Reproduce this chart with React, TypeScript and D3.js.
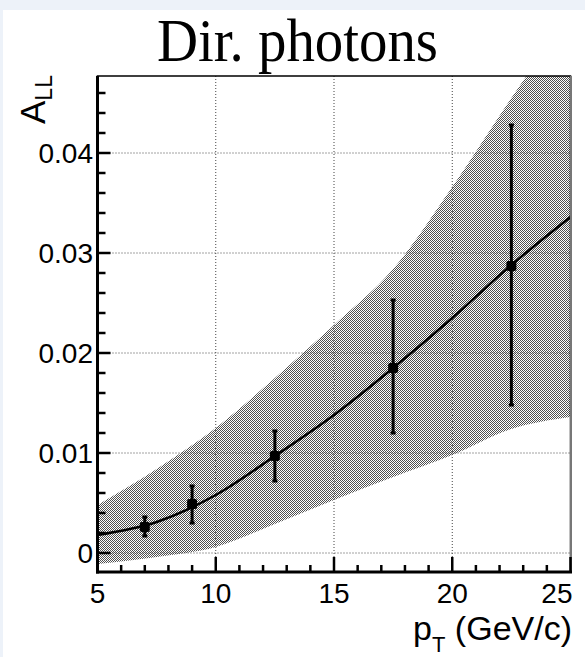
import React from "react";
import * as d3 from "d3";

// ---- data ----
const bandPt = [5, 7.5, 10, 12.5, 15, 17.5, 20, 22.5, 25];
const bandUpper = [0.0048, 0.0084, 0.0125, 0.0175, 0.0228, 0.0284, 0.0366, 0.0455, 0.054];
const bandLower = [-0.0011, -0.0004, 0.0006, 0.0029, 0.0053, 0.0076, 0.0098, 0.0124, 0.0136];
const curvePt = [5, 7.5, 10, 12.5, 15, 17.5, 20, 22.5, 25];
const curveVal = [0.0018, 0.0031, 0.0058, 0.0097, 0.0138, 0.0185, 0.0235, 0.0288, 0.0336];
const pointPt = [7, 9, 12.5, 17.5, 22.5];
const pointVal = [0.0026, 0.0049, 0.0097, 0.0185, 0.0287];
const pointLow = [0.0017, 0.003, 0.0072, 0.012, 0.0148];
const pointHigh = [0.0036, 0.0067, 0.0122, 0.0253, 0.0428];
const xMajorTicks = [5, 10, 15, 20, 25];
const yMajorTicks = [0, 0.01, 0.02, 0.03, 0.04];
const yTickLabels = ["0", "0.01", "0.02", "0.03", "0.04"];
const title = "Dir. photons";

export default function App() {
  const W = 585, H = 657;
  const L = 97.5, R = 570.5, T = 76, B = 572;
  const x = d3.scaleLinear().domain([5, 25]).range([L, R]);
  const y = d3.scaleLinear().domain([-0.0019, 0.0477]).range([B, T]);

  const xMinor = d3.range(5, 25.001, 1);
  const yMinor = d3.range(-0.002, 0.0477, 0.002).filter((v) => v > -0.0019);

  const band = d3
    .area<number>()
    .x((_, i) => x(bandPt[i]))
    .y0((_, i) => y(bandLower[i]))
    .y1((_, i) => y(bandUpper[i]))
    .curve(d3.curveMonotoneX)(bandPt);
  const curve = d3
    .line<number>()
    .x((_, i) => x(curvePt[i]))
    .y((_, i) => y(curveVal[i]))
    .curve(d3.curveMonotoneX)(curvePt);

  const sans = "'Liberation Sans', Arial, Helvetica, sans-serif";
  const serif = "'Liberation Serif', 'Times New Roman', serif";

  return (
    <svg
      width={W}
      height={H}
      style={{ position: "absolute", left: 0, top: 0 }}
      xmlns="http://www.w3.org/2000/svg"
    >
      <defs>
        <pattern id="stip" width={2} height={2} patternUnits="userSpaceOnUse">
          <rect x={0} y={0} width={1} height={1} fill="#505050" />
          <rect x={1} y={1} width={1} height={1} fill="#505050" />
        </pattern>
        <clipPath id="plotClip">
          <rect x={L} y={T} width={R - L} height={B - T} />
        </clipPath>
      </defs>
      <rect x={0} y={0} width={W} height={H} fill="#edf2f9" />
      <rect x={3} y={10} width={W - 3} height={H - 10} fill="#ffffff" />

      {/* title */}
      <text
        x={157}
        y={61}
        fontFamily={serif}
        fontSize={62}
        textLength={281}
        lengthAdjust="spacingAndGlyphs"
        fill="#000"
      >
        {title}
      </text>

      {/* band */}
      <g clipPath="url(#plotClip)">
        <path d={band || ""} fill="url(#stip)" />
      </g>

      {/* grid */}
      <g stroke="#444" strokeWidth={1} strokeDasharray="1 2">
        {xMajorTicks
          .filter((v) => v > 5 && v < 25)
          .map((v) => (
            <line key={"gx" + v} x1={x(v)} x2={x(v)} y1={T} y2={B} />
          ))}
        {yMajorTicks.map((v) => (
          <line key={"gy" + v} x1={L} x2={R} y1={y(v)} y2={y(v)} />
        ))}
      </g>

      {/* curve */}
      <g clipPath="url(#plotClip)">
        <path d={curve || ""} fill="none" stroke="#000" strokeWidth={2.5} />
      </g>

      {/* points */}
      <g>
        {pointPt.map((p, i) => (
          <g key={"pt" + i}>
            <line
              x1={x(p)}
              x2={x(p)}
              y1={y(pointLow[i])}
              y2={y(pointHigh[i])}
              stroke="#000"
              strokeWidth={3}
            />
            <rect x={x(p) - 2.5} y={y(pointLow[i]) - 1.5} width={5} height={3} fill="#000" />
            <rect x={x(p) - 2.5} y={y(pointHigh[i]) - 1.5} width={5} height={3} fill="#000" />
            <rect x={x(p) - 5} y={y(pointVal[i]) - 5} width={10} height={10} rx={2} fill="#000" />
          </g>
        ))}
      </g>

      {/* frame */}
      <rect x={L} y={T} width={R - L} height={B - T} fill="none" stroke="#000" strokeWidth={1.5} />
      <line x1={R + 0.5} x2={R + 0.5} y1={T} y2={B} stroke="#777" strokeWidth={2} />
      <line x1={L} x2={L} y1={T} y2={B + 1.5} stroke="#000" strokeWidth={3} />
      <line x1={L - 1.5} x2={R + 1.5} y1={B} y2={B} stroke="#000" strokeWidth={3} />

      {/* x ticks */}
      <g stroke="#000" strokeWidth={2.5}>
        {xMinor.map((v) => {
          const major = Math.round(v) % 5 === 0;
          return (
            <line key={"xt" + v} x1={x(v)} x2={x(v)} y1={B} y2={B - (major ? 15 : 7)} />
          );
        })}
      </g>
      {/* y ticks */}
      <g stroke="#000" strokeWidth={2.5}>
        {yMinor.map((v) => {
          const major = yMajorTicks.some((m) => Math.abs(m - v) < 1e-9);
          return <line key={"yt" + v} x1={L} x2={L + (major ? 13 : 8)} y1={y(v)} y2={y(v)} />;
        })}
      </g>

      {/* x tick labels */}
      <g fontFamily={sans} fontSize={28} fill="#000">
        {xMajorTicks.map((v, i) => (
          <text
            key={"xl" + v}
            x={i === xMajorTicks.length - 1 ? x(v) + 2 : x(v)}
            y={603}
            textAnchor={i === xMajorTicks.length - 1 ? "end" : "middle"}
          >
            {String(v)}
          </text>
        ))}
      </g>
      {/* y tick labels */}
      <g fontFamily={sans} fontSize={28} fill="#000">
        {yMajorTicks.map((v, i) => (
          <text key={"yl" + v} x={93} y={y(v) + 10} textAnchor="end">
            {yTickLabels[i]}
          </text>
        ))}
      </g>

      {/* axis titles */}
      <text x={572} y={640} fontFamily={sans} fontSize={34} textAnchor="end" fill="#000">
        <tspan>p</tspan>
        <tspan fontSize={22} dy={12}>T</tspan>
        <tspan dy={-12}> (GeV/c)</tspan>
      </text>
      <text
        transform="translate(45,124) rotate(-90)"
        fontFamily={sans}
        fontSize={35}
        fill="#000"
      >
        <tspan>A</tspan>
        <tspan fontSize={23} dy={7}>LL</tspan>
      </text>
    </svg>
  );
}
